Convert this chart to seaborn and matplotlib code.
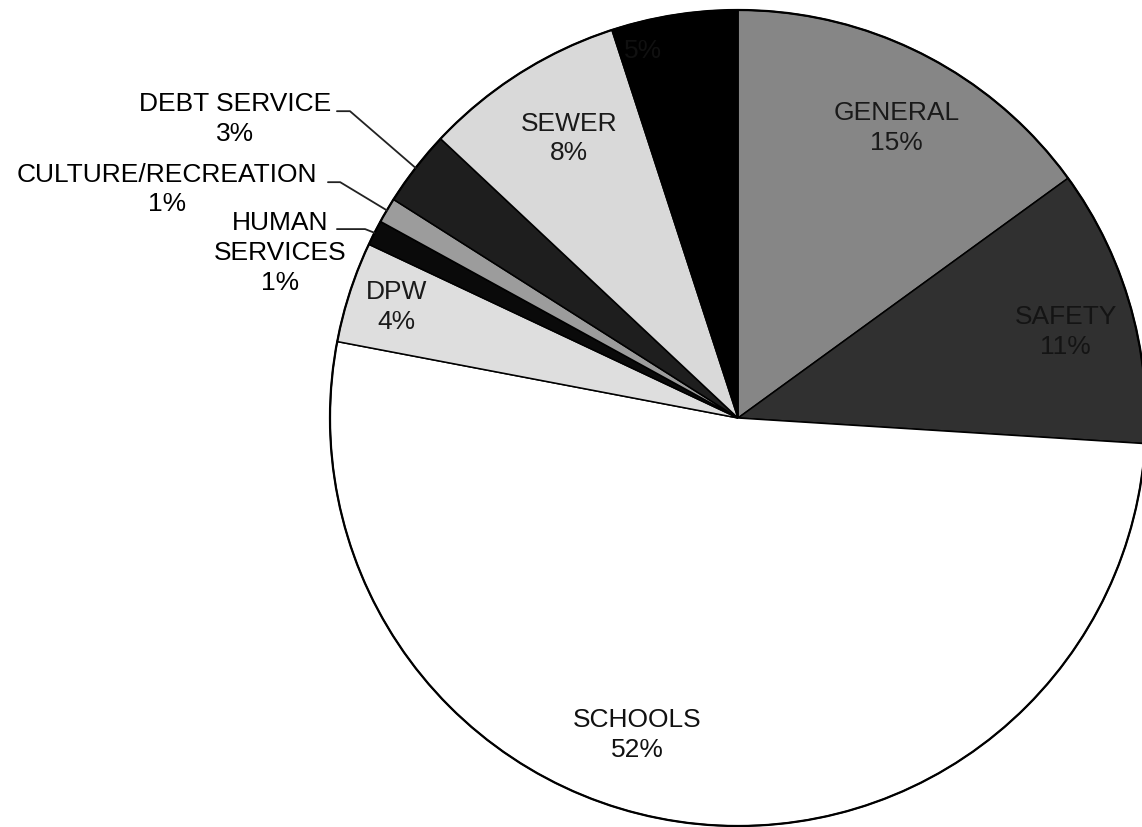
import numpy as np
import matplotlib
matplotlib.use("Agg")
import matplotlib.pyplot as plt
import seaborn as sns

# Budget shares, clockwise from 12 o'clock
categories = ["GENERAL", "SAFETY", "SCHOOLS", "DPW", "HUMAN\nSERVICES",
              "CULTURE/RECREATION", "DEBT SERVICE", "SEWER", ""]
shares = [15, 11, 52, 4, 1, 1, 3, 8, 5]
slice_colors = ["#868686", "#303030", "#ffffff", "#dedede", "#0a0a0a",
                "#9c9c9c", "#1e1e1e", "#d9d9d9", "#000000"]

sns.set_theme(style="white")
plt.rcParams['font.family'] = ['Liberation Sans', 'DejaVu Sans']

fig = plt.figure(figsize=(11.42, 8.27), dpi=100)
ax = fig.add_axes([0, 0, 1, 1])
wedges, _ = ax.pie(shares, colors=slice_colors, startangle=90, counterclock=False,
                   wedgeprops=dict(edgecolor="black", linewidth=1.1))
ax.add_patch(plt.Circle((0, 0), 1, fill=False, edgecolor="black", linewidth=1.6))

# pie sits off-centre, clipped at the right edge
ax.set_xlim(-738 / 408, (1142 - 738) / 408)
ax.set_ylim(-(827 - 418) / 408, 418 / 408)
ax.set_aspect("equal")
ax.axis("off")

FS = 19

def mid_angle(w):
    return np.deg2rad((w.theta1 + w.theta2) / 2)

# labels inside slices: index -> (radius, angle nudge in degrees, colour)
inside = {0: (0.81, -1.6, "#1a1a1a"), 1: (0.83, -1.5, "#141414"),
          2: (0.815, -10.5, "#111111"), 3: (0.88, 0, "#1a1a1a"),
          7: (0.80, -1.3, "#1a1a1a"), 8: (0.93, 5.5, "#101010")}
for i, (r, nudge, col) in inside.items():
    a = mid_angle(wedges[i]) + np.deg2rad(nudge)
    txt = f"{categories[i]}\n{shares[i]}%" if categories[i] else f"{shares[i]}%"
    ax.text(r * np.cos(a), r * np.sin(a), txt, ha="center", va="center",
            fontsize=FS, color=col, linespacing=1.3)

# labels outside with leader lines: index -> (text pos, stub start, elbow)
outside = {6: ((-1.233, 0.732), (-0.983, 0.752), (-0.951, 0.752)),
           5: ((-1.400, 0.560), (-1.005, 0.578), (-0.975, 0.578)),
           4: ((-1.123, 0.404), (-0.983, 0.463), (-0.914, 0.463))}
for i, (tpos, s0, s1) in outside.items():
    a = mid_angle(wedges[i])
    ax.text(tpos[0], tpos[1], f"{categories[i]}\n{shares[i]}%", ha="center",
            va="center", fontsize=FS, color="black", linespacing=1.3)
    ax.plot([s0[0], s1[0], np.cos(a)], [s0[1], s1[1], np.sin(a)],
            color="#222222", linewidth=1.3)

fig.savefig("out.png", dpi=100, facecolor="white")
